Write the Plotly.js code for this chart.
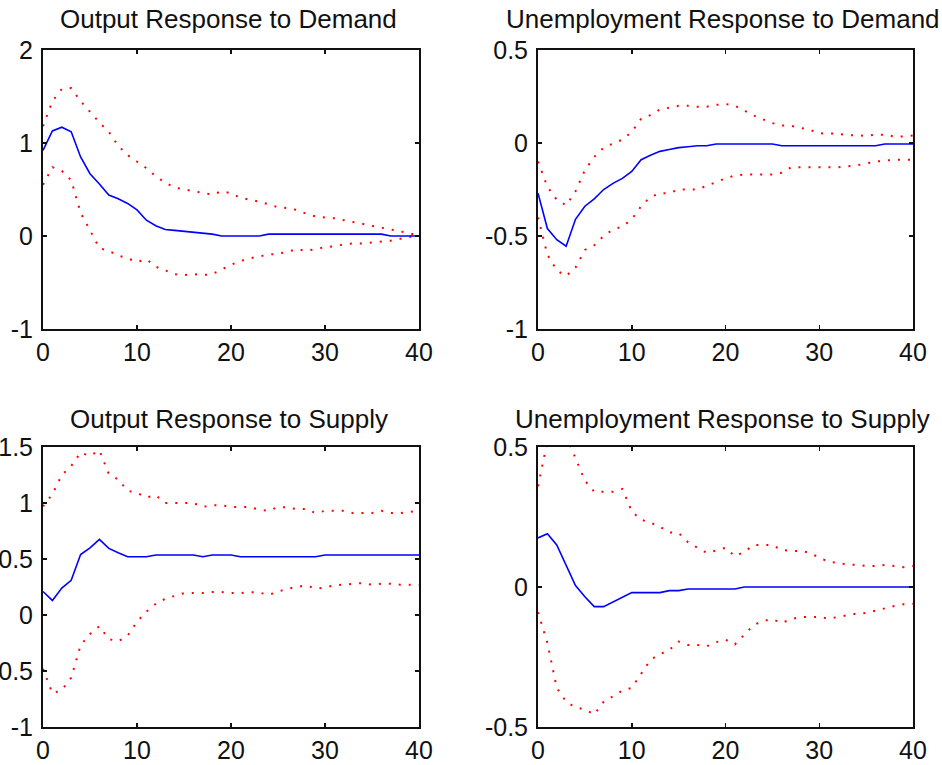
<!DOCTYPE html>
<html>
<head>
<meta charset="utf-8">
<script src="https://cdn.plot.ly/plotly-3.0.1.min.js"></script>
<style>html,body{margin:0;padding:0;background:#fff;}#chart{width:942px;height:765px;}</style>
</head>
<body>
<div id="chart"></div>
<script>
// Horizon (quarters after the shock)
const horizon = [0,1,2,3,4,5,6,7,8,9,10,11,12,13,14,15,16,17,18,19,20,21,22,23,24,25,26,27,28,29,30,31,32,33,34,35,36,37,38,39,40];

// Panel titles
const panelTitles = ["Output Response to Demand", "Unemployment Response to Demand",
                     "Output Response to Supply", "Unemployment Response to Supply"];

// Output response to demand
const outDemMid = [0.92,1.13,1.17,1.12,0.85,0.67,0.56,0.44,0.40,0.35,0.28,0.17,0.11,0.07,0.06,0.05,0.04,0.03,0.02,0.00,0.00,0.00,0.00,0.00,0.02,0.02,0.02,0.02,0.02,0.02,0.02,0.02,0.02,0.02,0.02,0.02,0.02,0.00,0.00,0.00,0.00];
const outDemUp  = [1.18,1.45,1.58,1.59,1.45,1.33,1.22,1.12,0.97,0.87,0.80,0.73,0.64,0.575,0.52,0.50,0.48,0.46,0.445,0.48,0.46,0.41,0.39,0.37,0.34,0.31,0.30,0.28,0.24,0.21,0.20,0.19,0.17,0.15,0.13,0.11,0.09,0.07,0.05,0.03,0.00];
const outDemLo  = [0.55,0.74,0.70,0.60,0.25,0.06,-0.13,-0.16,-0.21,-0.24,-0.28,-0.25,-0.33,-0.37,-0.41,-0.42,-0.41,-0.42,-0.41,-0.36,-0.31,-0.27,-0.24,-0.22,-0.20,-0.19,-0.17,-0.14,-0.16,-0.14,-0.12,-0.11,-0.09,-0.08,-0.08,-0.07,-0.06,-0.05,-0.03,-0.01,0.01];

// Unemployment response to demand
const unDemMid = [-0.27,-0.46,-0.52,-0.555,-0.41,-0.34,-0.30,-0.25,-0.217,-0.19,-0.153,-0.09,-0.066,-0.045,-0.035,-0.025,-0.02,-0.015,-0.015,-0.005,-0.005,-0.005,-0.005,-0.005,-0.005,-0.005,-0.015,-0.015,-0.015,-0.015,-0.015,-0.015,-0.015,-0.015,-0.015,-0.015,-0.015,-0.005,-0.005,-0.005,-0.005];
const unDemUp  = [-0.10,-0.235,-0.305,-0.335,-0.26,-0.146,-0.075,-0.025,-0.003,0.018,0.06,0.13,0.15,0.18,0.19,0.20,0.20,0.195,0.195,0.205,0.21,0.20,0.175,0.148,0.127,0.107,0.094,0.092,0.081,0.071,0.052,0.05,0.05,0.042,0.039,0.039,0.045,0.045,0.035,0.035,0.04];
const unDemLo  = [-0.40,-0.60,-0.685,-0.715,-0.67,-0.575,-0.55,-0.50,-0.465,-0.45,-0.41,-0.34,-0.29,-0.27,-0.27,-0.25,-0.25,-0.25,-0.23,-0.21,-0.19,-0.175,-0.17,-0.17,-0.17,-0.17,-0.16,-0.13,-0.13,-0.13,-0.13,-0.13,-0.13,-0.125,-0.12,-0.11,-0.10,-0.095,-0.09,-0.09,-0.09];

// Output response to supply
const outSupMid = [0.21,0.13,0.24,0.31,0.54,0.60,0.675,0.595,0.556,0.52,0.52,0.52,0.536,0.536,0.536,0.536,0.536,0.52,0.536,0.536,0.536,0.52,0.52,0.52,0.52,0.52,0.52,0.52,0.52,0.52,0.536,0.536,0.536,0.536,0.536,0.536,0.536,0.536,0.536,0.536,0.536];
const outSupUp  = [0.97,1.08,1.25,1.33,1.45,1.42,1.47,1.26,1.21,1.11,1.09,1.05,1.07,1.00,1.00,1.00,1.00,0.965,0.98,0.98,0.965,0.965,0.965,0.94,0.93,0.965,0.96,0.946,0.946,0.91,0.93,0.93,0.93,0.91,0.91,0.91,0.93,0.91,0.91,0.92,0.93];
const outSupLo  = [-0.48,-0.70,-0.67,-0.56,-0.27,-0.17,-0.10,-0.215,-0.235,-0.185,-0.06,0.03,0.10,0.145,0.17,0.195,0.196,0.196,0.205,0.205,0.196,0.196,0.205,0.20,0.18,0.21,0.235,0.25,0.265,0.235,0.245,0.265,0.27,0.28,0.285,0.27,0.28,0.28,0.27,0.27,0.27];

// Unemployment response to supply
const unSupMid = [0.175,0.19,0.15,0.075,0.005,-0.035,-0.07,-0.07,-0.053,-0.035,-0.02,-0.02,-0.02,-0.02,-0.013,-0.013,-0.007,-0.007,-0.007,-0.007,-0.007,-0.007,0.0,0.0,0.0,0.0,0.0,0.0,0.0,0.0,0.0,0.0,0.0,0.0,0.0,0.0,0.0,0.0,0.0,0.0,0.0];
const unSupUp  = [0.36,0.52,0.58,0.54,0.46,0.38,0.34,0.34,0.34,0.35,0.27,0.24,0.23,0.215,0.195,0.193,0.16,0.14,0.122,0.13,0.14,0.11,0.125,0.15,0.15,0.15,0.132,0.129,0.129,0.122,0.105,0.09,0.086,0.08,0.079,0.075,0.075,0.079,0.075,0.071,0.075];
const unSupLo  = [-0.09,-0.20,-0.36,-0.41,-0.43,-0.437,-0.455,-0.41,-0.39,-0.37,-0.36,-0.31,-0.26,-0.24,-0.225,-0.195,-0.207,-0.207,-0.212,-0.197,-0.188,-0.205,-0.17,-0.136,-0.121,-0.115,-0.128,-0.115,-0.107,-0.107,-0.107,-0.113,-0.107,-0.102,-0.095,-0.093,-0.085,-0.075,-0.068,-0.062,-0.06];

// Tick values / labels
const xTickVals = [0,10,20,30,40];
const xTickText = ["0","10","20","30","40"];
const yTickValsA = [-1,0,1,2];            const yTickTextA = ["-1","0","1","2"];
const yTickValsB = [-1,-0.5,0,0.5];        const yTickTextB = ["-1","-0.5","0","0.5"];
const yTickValsC = [-1,-0.5,0,0.5,1,1.5];  const yTickTextC = ["-1","-0.5","0","0.5","1","1.5"];
const yTickValsD = [-0.5,0,0.5];           const yTickTextD = ["-0.5","0","0.5"];

const W = 942, H = 765;
const FONT = "Liberation Sans, Arial, Helvetica, sans-serif";
const INK = "#111111";

const panels = [
  {mid: outDemMid, up: outDemUp, lo: outDemLo, yr: [-1,2],    tv: yTickValsA, tt: yTickTextA, px: [43,419], py: [50,329]},
  {mid: unDemMid,  up: unDemUp,  lo: unDemLo,  yr: [-1,0.5],  tv: yTickValsB, tt: yTickTextB, px: [538,913], py: [50,329]},
  {mid: outSupMid, up: outSupUp, lo: outSupLo, yr: [-1,1.5],  tv: yTickValsC, tt: yTickTextC, px: [43,419], py: [447,727]},
  {mid: unSupMid,  up: unSupUp,  lo: unSupLo,  yr: [-0.5,0.5],tv: yTickValsD, tt: yTickTextD, px: [538,913], py: [447,727]}
];
const titleCenters = [[228.5,18.5],[722.5,18.5],[228.5,418.5],[722.5,418.5]];

const traces = [];
const layout = {
  width: W, height: H,
  margin: {l:0, r:0, t:0, b:0},
  paper_bgcolor: "#ffffff", plot_bgcolor: "#ffffff",
  showlegend: false,
  font: {family: FONT, size: 25, color: INK},
  annotations: []
};

panels.forEach((p, i) => {
  const n = i + 1;
  const xa = n === 1 ? "x" : "x" + n;
  const ya = n === 1 ? "y" : "y" + n;
  const dotted = {color: "#ff0000", width: 2, dash: "2px,8px"};
  traces.push({x: horizon, y: p.up, xaxis: xa, yaxis: ya, type: "scatter", mode: "lines", line: dotted, hoverinfo: "skip"});
  traces.push({x: horizon, y: p.lo, xaxis: xa, yaxis: ya, type: "scatter", mode: "lines", line: dotted, hoverinfo: "skip"});
  traces.push({x: horizon, y: p.mid, xaxis: xa, yaxis: ya, type: "scatter", mode: "lines", line: {color: "#0000ff", width: 1.6}, hoverinfo: "skip"});

  const common = {
    showline: true, linecolor: INK, linewidth: 2, mirror: "allticks",
    ticks: "inside", ticklen: 4, tickwidth: 1.5, tickcolor: INK,
    showgrid: false, zeroline: false, fixedrange: true,
    tickfont: {family: FONT, size: 25, color: INK}
  };
  layout["xaxis" + (n === 1 ? "" : n)] = Object.assign({}, common, {
    domain: [p.px[0]/W, p.px[1]/W], anchor: ya, range: [0,40],
    tickmode: "array", tickvals: xTickVals, ticktext: xTickText, ticklabelstandoff: 0
  });
  layout["yaxis" + (n === 1 ? "" : n)] = Object.assign({}, common, {
    domain: [1 - p.py[1]/H, 1 - p.py[0]/H], anchor: xa, range: p.yr,
    tickmode: "array", tickvals: p.tv, ticktext: p.tt, ticklabelstandoff: 3
  });
  layout.annotations.push({
    text: panelTitles[i], xref: "paper", yref: "paper",
    x: titleCenters[i][0]/W, y: 1 - titleCenters[i][1]/H,
    xanchor: "center", yanchor: "middle", showarrow: false,
    font: {family: FONT, size: 26, color: INK}
  });
});

Plotly.newPlot("chart", traces, layout, {displayModeBar: false, staticPlot: true});
</script>
</body>
</html>
